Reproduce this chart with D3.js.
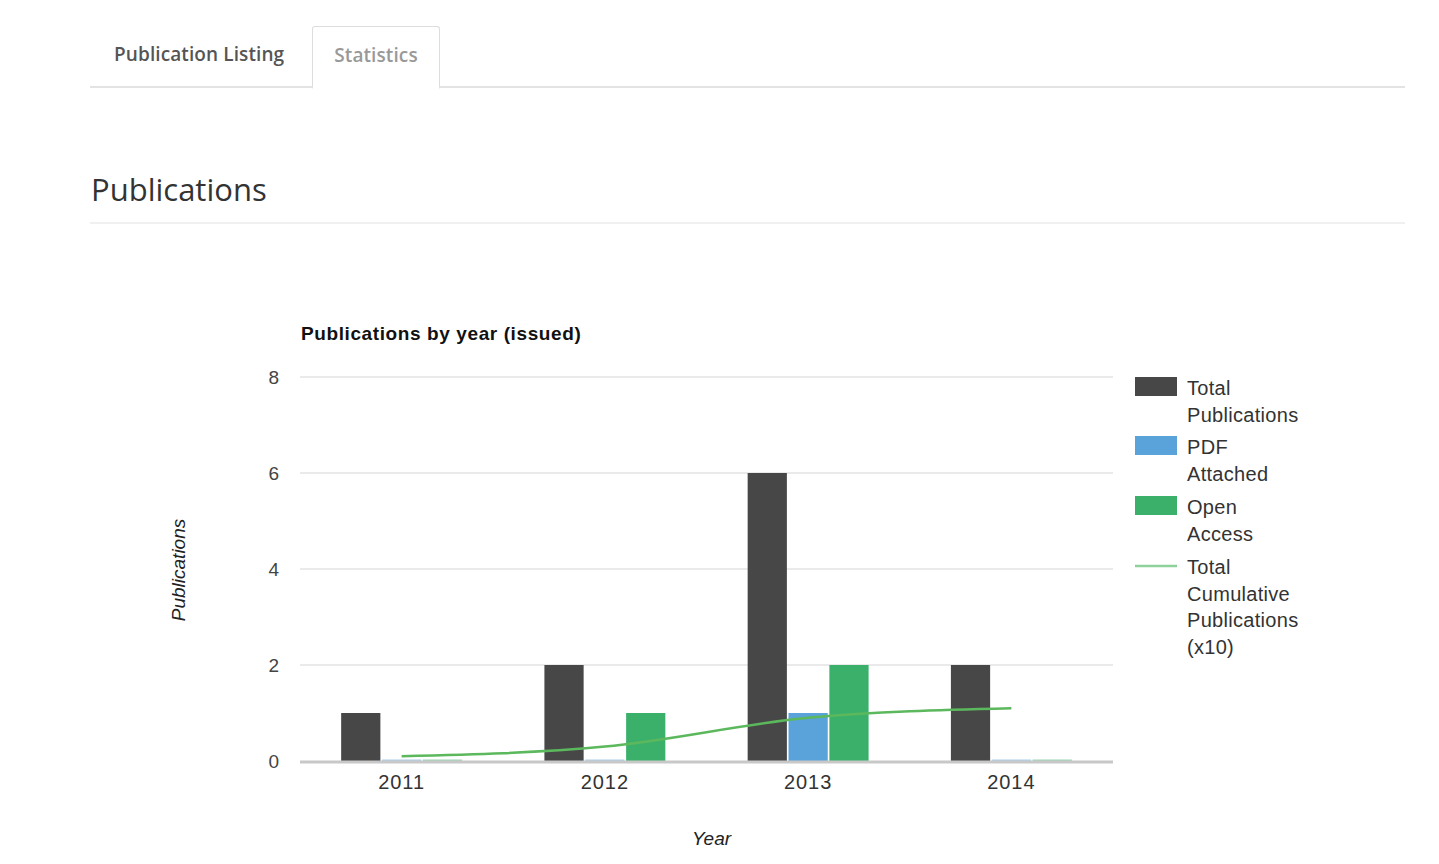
<!DOCTYPE html>
<html lang="en">
<head>
<meta charset="utf-8">
<title>Publications by year</title>
<script src="https://d3js.org/d3.v7.min.js"></script>
<style>
  body { margin: 0; background: #fff; font-family: "Open Sans", sans-serif; }
  .tabs { position: absolute; left: 90px; top: 0; width: 1315px; height: 86px; border-bottom: 2px solid #e3e3e3; }
  .tab { position: absolute; top: 26px; height: 60px; line-height: 56px; font-size: 19px; font-weight: 600; letter-spacing: 0.1px; }
  .tab.listing { left: 24px; color: #555; }
  .tab.active { left: 222px; width: 126px; text-align: center; color: #999; background: #fff;
                border: 1px solid #ddd; border-bottom: 2px solid #fff; border-radius: 3px 3px 0 0; height: 60px; }
  h2 { position: absolute; left: 91px; top: 168px; margin: 0; font-size: 31px; font-weight: 400; color: #333; }
  .sep { position: absolute; left: 90px; top: 222px; width: 1315px; border-top: 2px solid #f0f0f0; }
  svg { position: absolute; left: 0; top: 0; }
  .tick text { font-family: Arial, "Liberation Sans", sans-serif; }
</style>
</head>
<body>
<div class="tabs">
  <div class="tab listing">Publication Listing</div>
  <div class="tab active">Statistics</div>
</div>
<h2>Publications</h2>
<div class="sep"></div>
<svg id="chart" width="1439" height="864"></svg>

<script>
var years = ["2011", "2012", "2013", "2014"];
var seriesNames = ["Total Publications", "PDF Attached", "Open Access"];
var totalPubs = [1, 2, 6, 2];
var pdfAttached = [0, 0, 1, 0];
var openAccess = [0, 1, 2, 0];
var cumulative = [0.1, 0.3, 0.9, 1.1];   // total cumulative publications (x10)
var yTicks = [0, 2, 4, 6, 8];

var colors = { "Total Publications": "#474747", "PDF Attached": "#5aa2da", "Open Access": "#3bb06b" };
var lineColor = "#5cb85c";

var plotLeft = 300, plotRight = 1113, plotTop = 377, plotBottom = 761;
var font = "Arial, 'Liberation Sans', sans-serif";

var svg = d3.select("#chart");

var x0 = d3.scaleBand().domain(years).range([plotLeft, plotRight]);
var groupW = x0.bandwidth() * 0.595;
var x1 = d3.scaleBand().domain(seriesNames).range([0, groupW]).paddingInner(0.04);
var y = d3.scaleLinear().domain([0, 8]).range([plotBottom, plotTop]);

var rows = years.map(function (yr, i) {
    return { year: yr, vals: [totalPubs[i], pdfAttached[i], openAccess[i]] };
});

// gridlines
svg.append("g").selectAll("line")
    .data(yTicks.filter(d => d > 0)).enter()
    .append("line")
    .attr("x1", plotLeft).attr("x2", plotRight)
    .attr("y1", d => y(d)).attr("y2", d => y(d))
    .attr("stroke", "#e3e3e3").attr("stroke-width", 1.5);

// y tick labels
var yAxis = svg.append("g")
    .attr("transform", `translate(${plotLeft - 21},0)`)
    .call(d3.axisLeft(y).tickValues(yTicks).tickSize(0).tickPadding(0).tickFormat(d3.format("d")));
yAxis.select(".domain").remove();
yAxis.selectAll("text").attr("font-size", 19).attr("fill", "#444").attr("text-anchor", "end");

// bars
var groups = svg.append("g").selectAll("g")
    .data(rows).enter()
    .append("g")
    .attr("transform", d => `translate(${x0(d.year) + (x0.bandwidth() - groupW) / 2},0)`);

groups.selectAll("rect")
    .data(d => d.vals.map((v, j) => ({ name: seriesNames[j], v: v }))).enter()
    .append("rect")
    .attr("x", d => x1(d.name))
    .attr("width", x1.bandwidth())
    .attr("y", d => d.v > 0 ? y(d.v) : plotBottom - 1.5)
    .attr("height", d => d.v > 0 ? plotBottom - y(d.v) : 1.5)
    .attr("fill", d => colors[d.name])
    .attr("opacity", d => d.v > 0 ? 1 : 0.5);

// baseline
svg.append("line")
    .attr("x1", plotLeft).attr("x2", plotRight)
    .attr("y1", plotBottom + 1).attr("y2", plotBottom + 1)
    .attr("stroke", "#c8c8c8").attr("stroke-width", 3);

// cumulative line
var line = d3.line()
    .x((d, i) => x0(years[i]) + x0.bandwidth() / 2)
    .y(d => y(d))
    .curve(d3.curveMonotoneX);

svg.append("path")
    .datum(cumulative)
    .attr("d", line)
    .attr("fill", "none")
    .attr("stroke", lineColor)
    .attr("stroke-width", 2.5);

// x tick labels
var xAxis = svg.append("g")
    .attr("transform", `translate(0,${plotBottom + 3})`)
    .call(d3.axisBottom(x0).tickSize(0).tickPadding(11));
xAxis.select(".domain").remove();
xAxis.selectAll("text").attr("font-size", 20).attr("letter-spacing", 1).attr("fill", "#333");

// titles
svg.append("text")
    .attr("x", plotLeft + 1).attr("y", 340)
    .attr("font-family", font).attr("font-size", 19).attr("font-weight", "bold")
    .attr("letter-spacing", 0.6)
    .attr("fill", "#111")
    .text("Publications by year (issued)");

svg.append("text")
    .attr("x", (plotLeft + plotRight) / 2 + 5).attr("y", 845)
    .attr("text-anchor", "middle")
    .attr("font-family", font).attr("font-size", 19).attr("font-style", "italic")
    .attr("fill", "#222")
    .text("Year");

svg.append("text")
    .attr("transform", "translate(185,570) rotate(-90)")
    .attr("text-anchor", "middle")
    .attr("font-family", font).attr("font-size", 19).attr("font-style", "italic")
    .attr("fill", "#222")
    .text("Publications");

// legend
var legendItems = [
    { name: "Total Publications", lines: ["Total", "Publications"], type: "rect", color: colors["Total Publications"] },
    { name: "PDF Attached", lines: ["PDF", "Attached"], type: "rect", color: colors["PDF Attached"] },
    { name: "Open Access", lines: ["Open", "Access"], type: "rect", color: colors["Open Access"] },
    { name: "Total Cumulative Publications (x10)", lines: ["Total", "Cumulative", "Publications", "(x10)"], type: "line", color: "#8fd19a" }
];
var legendTops = [377, 436, 496, 556];
var lineH = 26.5;

var lg = svg.append("g").selectAll("g")
    .data(legendItems).enter()
    .append("g")
    .attr("transform", (d, i) => `translate(1135,${legendTops[i]})`);

lg.filter(d => d.type === "rect").append("rect")
    .attr("width", 42).attr("height", 19)
    .attr("fill", d => d.color);

lg.filter(d => d.type === "line").append("line")
    .attr("x1", 0).attr("x2", 42).attr("y1", 10).attr("y2", 10)
    .attr("stroke", d => d.color).attr("stroke-width", 2.5);

lg.selectAll("text")
    .data(d => d.lines).enter()
    .append("text")
    .attr("x", 52)
    .attr("y", (d, i) => 18 + i * lineH)
    .attr("font-family", font).attr("font-size", 20)
    .attr("letter-spacing", 0.3)
    .attr("fill", "#333")
    .text(d => d);
</script>
</body>
</html>
